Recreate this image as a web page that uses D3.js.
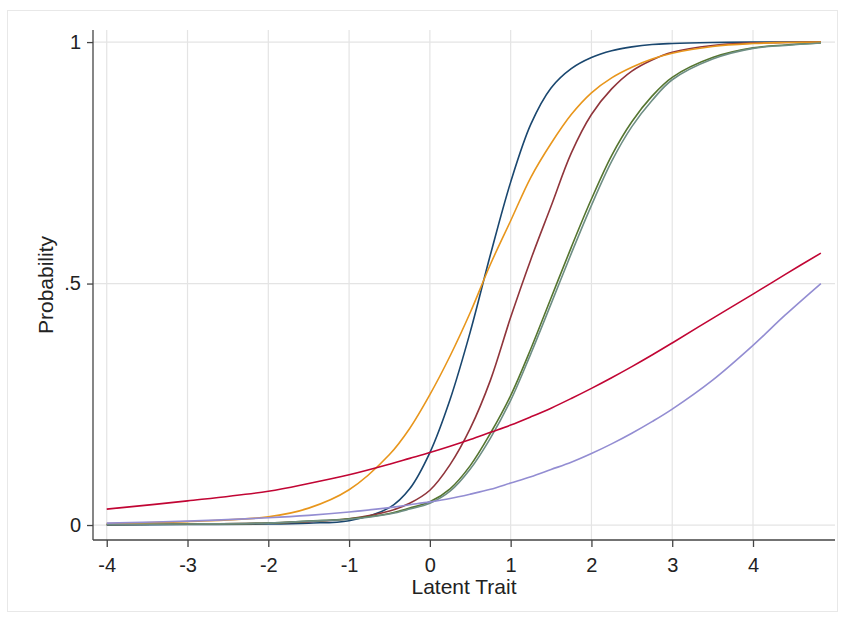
<!DOCTYPE html>
<html lang="en">
<head>
    <meta charset="UTF-8">
    <title>Item characteristic curves</title>
    <script src="https://d3js.org/d3.v7.min.js"></script>
    <style>
        body { margin: 0; background: #fff; }
        text { font-family: "Liberation Sans", Arial, sans-serif; fill: #222; }
    </style>
</head>
<body>
    <svg id="chart" width="846" height="622"></svg>
<script>
    // latent trait grid
    const theta = [-4, -3, -2, -1.5, -1, -0.5, -0.25, 0, 0.25, 0.5, 0.75, 1, 1.25, 1.5, 1.75, 2, 2.25, 2.5, 2.75, 3, 3.5, 4, 4.4, 4.84];

    // probability for each item
    const navy = [0.000, 0.001, 0.002, 0.004, 0.009, 0.036, 0.075, 0.15, 0.26, 0.40, 0.56, 0.71, 0.83, 0.905, 0.945, 0.968, 0.982, 0.99, 0.995, 0.997, 0.999, 1.0, 1.0, 1.0];
    const maroon = [0.001, 0.002, 0.004, 0.007, 0.013, 0.029, 0.045, 0.072, 0.125, 0.20, 0.30, 0.43, 0.55, 0.66, 0.77, 0.85, 0.903, 0.94, 0.963, 0.979, 0.993, 0.998, 0.999, 1.0];
    const forestGreen = [0.001, 0.002, 0.004, 0.008, 0.013, 0.024, 0.035, 0.048, 0.075, 0.123, 0.19, 0.268, 0.365, 0.47, 0.575, 0.675, 0.765, 0.835, 0.888, 0.927, 0.968, 0.988, 0.994, 0.998];
    const dkorange = [0.003, 0.007, 0.017, 0.035, 0.073, 0.146, 0.20, 0.27, 0.35, 0.44, 0.54, 0.63, 0.72, 0.79, 0.85, 0.895, 0.926, 0.948, 0.965, 0.977, 0.991, 0.997, 0.999, 1.0];
    const teal = [0.001, 0.002, 0.004, 0.008, 0.012, 0.023, 0.033, 0.045, 0.07, 0.116, 0.18, 0.258, 0.355, 0.458, 0.562, 0.662, 0.753, 0.825, 0.879, 0.922, 0.965, 0.987, 0.993, 0.998];
    const cranberry = [0.033, 0.05, 0.07, 0.086, 0.104, 0.126, 0.138, 0.15, 0.163, 0.177, 0.192, 0.207, 0.224, 0.242, 0.262, 0.283, 0.305, 0.328, 0.352, 0.377, 0.428, 0.478, 0.519, 0.563];
    const lavender = [0.004, 0.008, 0.015, 0.02, 0.027, 0.036, 0.042, 0.048, 0.055, 0.064, 0.074, 0.087, 0.10, 0.115, 0.13, 0.148, 0.168, 0.19, 0.214, 0.24, 0.30, 0.372, 0.435, 0.50];

    const xTicks = [-4, -3, -2, -1, 0, 1, 2, 3, 4];
    const yTicks = [0, 0.5, 1];
    const yTickLabels = ['0', '.5', '1'];

    const series = [
        { values: navy, color: '#1a476f' },
        { values: maroon, color: '#90353b' },
        { values: forestGreen, color: '#55752f' },
        { values: dkorange, color: '#e8961c' },
        { values: teal, color: '#6e8e84' },
        { values: cranberry, color: '#c10534' },
        { values: lavender, color: '#938dd2' }
    ];

    const svg = d3.select('#chart');

    // outer frame of the graph region
    svg.append('rect')
        .attr('x', 7.5).attr('y', 10.5)
        .attr('width', 830).attr('height', 601)
        .attr('fill', '#fff')
        .attr('stroke', '#e8e8e8');

    const plotLeft = 93, plotRight = 835, plotTop = 30, plotBottom = 540;

    const x = d3.scaleLinear().domain([-4.17, 5.015]).range([plotLeft, plotRight]);
    const y = d3.scaleLinear().domain([-0.031, 1.025]).range([plotBottom, plotTop]);

    // grid
    svg.append('g')
        .selectAll('line')
        .data(xTicks)
        .join('line')
        .attr('x1', d => x(d)).attr('x2', d => x(d))
        .attr('y1', plotTop).attr('y2', plotBottom)
        .attr('stroke', '#e4e4e4')
        .attr('stroke-width', 1.2);

    svg.append('g')
        .selectAll('line')
        .data(yTicks)
        .join('line')
        .attr('x1', plotLeft).attr('x2', plotRight)
        .attr('y1', d => y(d)).attr('y2', d => y(d))
        .attr('stroke', '#e4e4e4')
        .attr('stroke-width', 1.2);

    // curves
    const line = d3.line()
        .x((d, i) => x(theta[i]))
        .y(d => y(d))
        .curve(d3.curveCatmullRom.alpha(0.5));

    svg.append('g')
        .selectAll('path')
        .data(series)
        .join('path')
        .attr('d', d => line(d.values))
        .attr('fill', 'none')
        .attr('stroke', d => d.color)
        .attr('stroke-width', 1.6);

    // axes
    const xAxis = d3.axisBottom(x).tickValues(xTicks).tickSize(7).tickPadding(11).tickFormat(d => String(d));
    const yAxis = d3.axisLeft(y).tickValues(yTicks).tickSize(6).tickPadding(6)
        .tickFormat((d, i) => yTickLabels[i]);

    const gx = svg.append('g').attr('transform', `translate(0,${plotBottom})`).call(xAxis);
    const gy = svg.append('g').attr('transform', `translate(${plotLeft},0)`).call(yAxis);

    [gx, gy].forEach(g => {
        g.select('.domain').attr('stroke', '#444').attr('stroke-width', 1.3);
        g.selectAll('.tick line').attr('stroke', '#444').attr('stroke-width', 1.3);
        g.selectAll('.tick text').attr('font-size', 20).attr('fill', '#222')
            .style('font-family', '"Liberation Sans", Arial, sans-serif');
    });
    gx.select('.domain').attr('d', `M${plotLeft},0H${plotRight}`);
    gy.select('.domain').attr('d', `M0,${plotBottom}V${plotTop}`);

    // axis titles
    svg.append('text')
        .attr('x', (plotLeft + plotRight) / 2)
        .attr('y', 594)
        .attr('text-anchor', 'middle')
        .attr('font-size', 21)
        .text('Latent Trait');

    svg.append('text')
        .attr('transform', `translate(53,${(plotTop + plotBottom) / 2}) rotate(-90)`)
        .attr('text-anchor', 'middle')
        .attr('font-size', 21)
        .text('Probability');
</script>
</body>
</html>
